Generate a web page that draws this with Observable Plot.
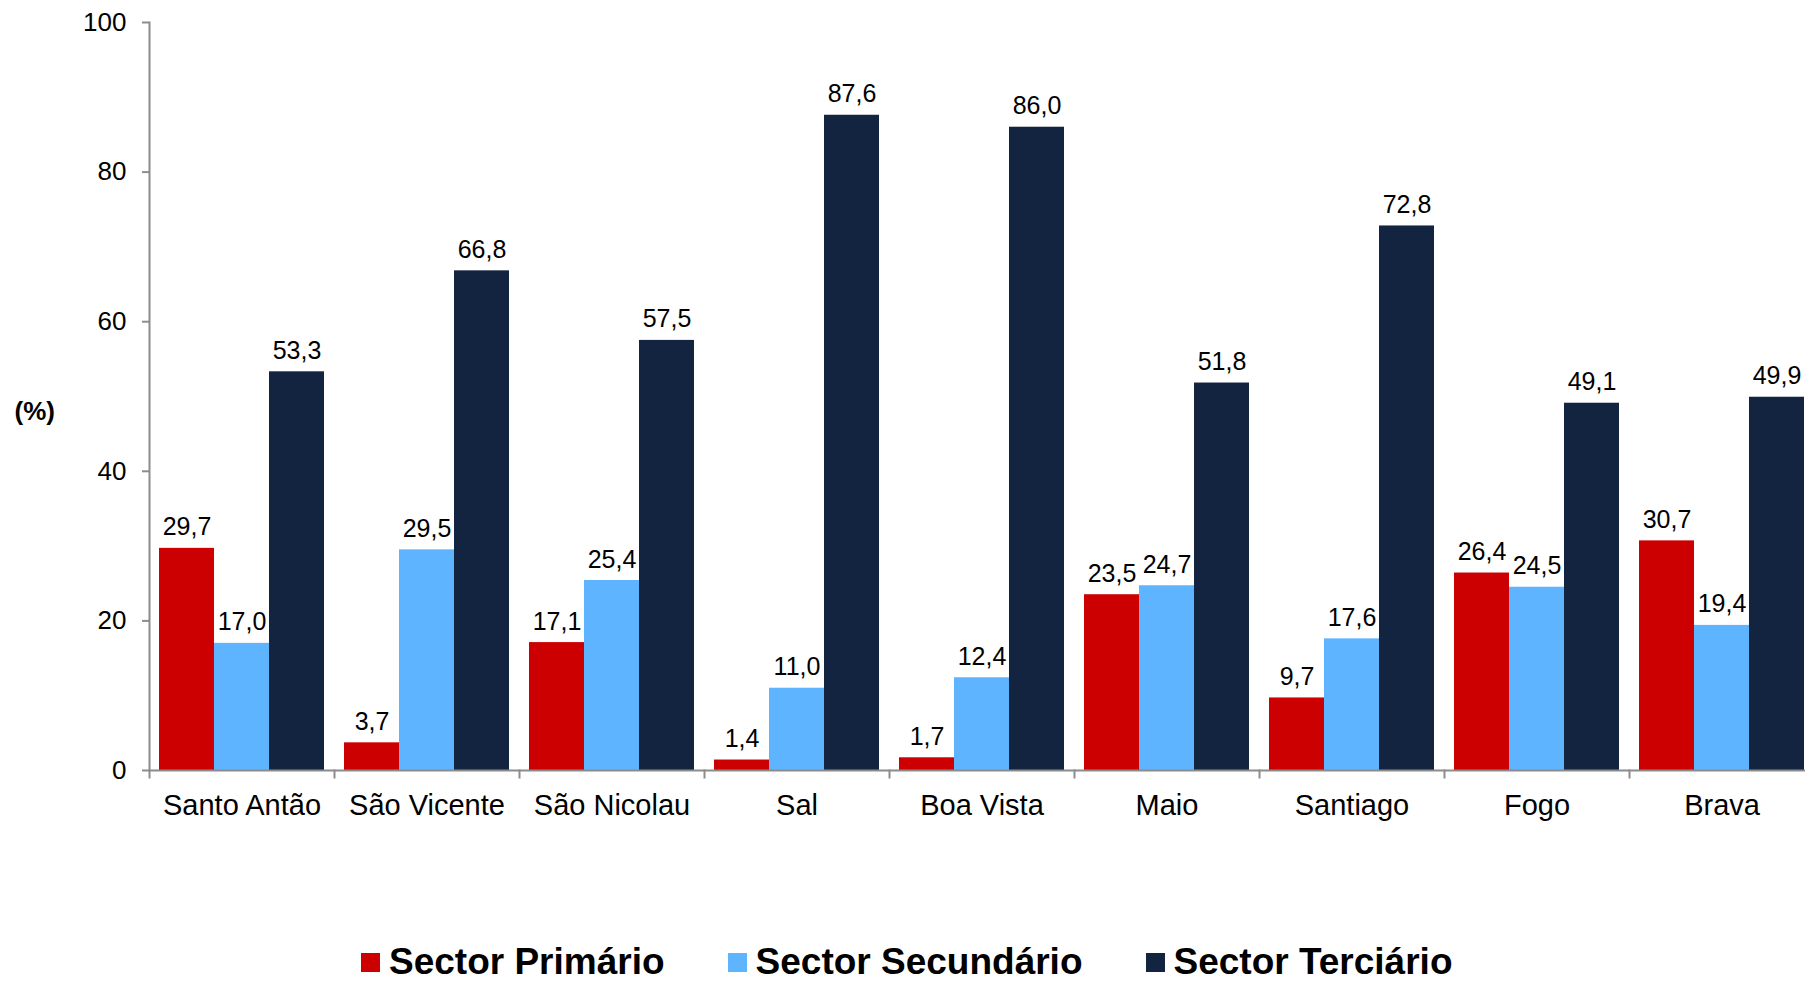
<!DOCTYPE html>
<html><head><meta charset="utf-8">
<script src="https://cdn.jsdelivr.net/npm/d3@7"></script>
<script src="https://cdn.jsdelivr.net/npm/@observablehq/plot@0.6"></script>
<style>
body{margin:0;background:#fff;overflow:hidden;}
#wrap{position:relative;width:1805px;height:984px;font-family:"Liberation Sans",Arial,sans-serif;}
#legend{position:absolute;left:0;top:942px;height:40px;line-height:40px;padding-left:361px;display:flex;align-items:center;gap:63px;font-weight:bold;font-size:37px;color:#000;white-space:nowrap;}
.item{display:flex;align-items:center;gap:9px;height:40px;}
.sw{width:19px;height:19px;display:inline-block;}
</style></head><body><div id="wrap"></div>
<script>
const islands = ["Santo Antão","São Vicente","São Nicolau","Sal","Boa Vista","Maio","Santiago","Fogo","Brava"];
const sectors = ["Sector Primário","Sector Secundário","Sector Terciário"];
const primario   = [29.7, 3.7, 17.1, 1.4, 1.7, 23.5, 9.7, 26.4, 30.7];
const secundario = [17.0, 29.5, 25.4, 11.0, 12.4, 24.7, 17.6, 24.5, 19.4];
const terciario  = [53.3, 66.8, 57.5, 87.6, 86.0, 51.8, 72.8, 49.1, 49.9];
const colors = ["#CC0000", "#5FB4FF", "#12243F"];
const yTicks = [0, 20, 40, 60, 80, 100];
const yUnit = "(%)";

const series = [primario, secundario, terciario];
const data = [];
islands.forEach((isl, i) => sectors.forEach((s, j) => data.push({island: isl, sector: s, value: series[j][i]})));
const fmt = v => v.toFixed(1).replace(".", ",");
const axisGray = "#8c8c8c";

const chart = Plot.plot({
  width: 1805,
  height: 935,
  marginLeft: 149,
  marginRight: -9,
  marginTop: 22,
  marginBottom: 165,
  style: {fontFamily: "'Liberation Sans', Arial, sans-serif", background: "#fff", color: "#000"},
  fx: {domain: islands, paddingInner: 0, paddingOuter: 0, axis: null},
  x: {domain: sectors, paddingInner: 0, paddingOuter: 0.167, axis: null},
  y: {domain: [0, 100], axis: null},
  color: {domain: sectors, range: colors},
  marks: [
    Plot.barY(data, {fx: "island", x: "sector", y: "value", fill: "sector"}),
    Plot.ruleY([0], {stroke: axisGray, strokeWidth: 2}),
    Plot.frame({anchor: "left", stroke: axisGray, strokeWidth: 2, insetTop: 748, insetBottom: -7}),
    Plot.frame({anchor: "left", stroke: axisGray, strokeWidth: 2, facetAnchor: "left"}),
    Plot.axisY({ticks: yTicks, tickSize: 7, tickPadding: 16, fontSize: 26, stroke: axisGray, strokeWidth: 2, strokeOpacity: 1, label: null, tickFormat: d => String(d)}),
    Plot.axisFx({anchor: "bottom", tickSize: 0, tickPadding: 24, fontSize: 29, label: null}),
    Plot.text(data, {fx: "island", x: "sector", y: "value", text: d => fmt(d.value), lineAnchor: "bottom", dy: -13, fontSize: 25, fill: "#000"}),
    Plot.text([yUnit], {text: d => d, facetAnchor: "left", frameAnchor: "left", dx: -135, dy: 15, textAnchor: "start", fontWeight: "bold", fontSize: 26, fill: "#000"})
  ]
});
const wrap = document.getElementById("wrap");
wrap.appendChild(chart);

const legend = document.createElement("div");
legend.id = "legend";
sectors.forEach((s, i) => {
  const it = document.createElement("div");
  it.className = "item";
  const sw = document.createElement("span");
  sw.className = "sw";
  sw.style.background = colors[i];
  const t = document.createElement("span");
  t.textContent = s;
  it.appendChild(sw); it.appendChild(t);
  legend.appendChild(it);
});
wrap.appendChild(legend);
</script></body></html>
